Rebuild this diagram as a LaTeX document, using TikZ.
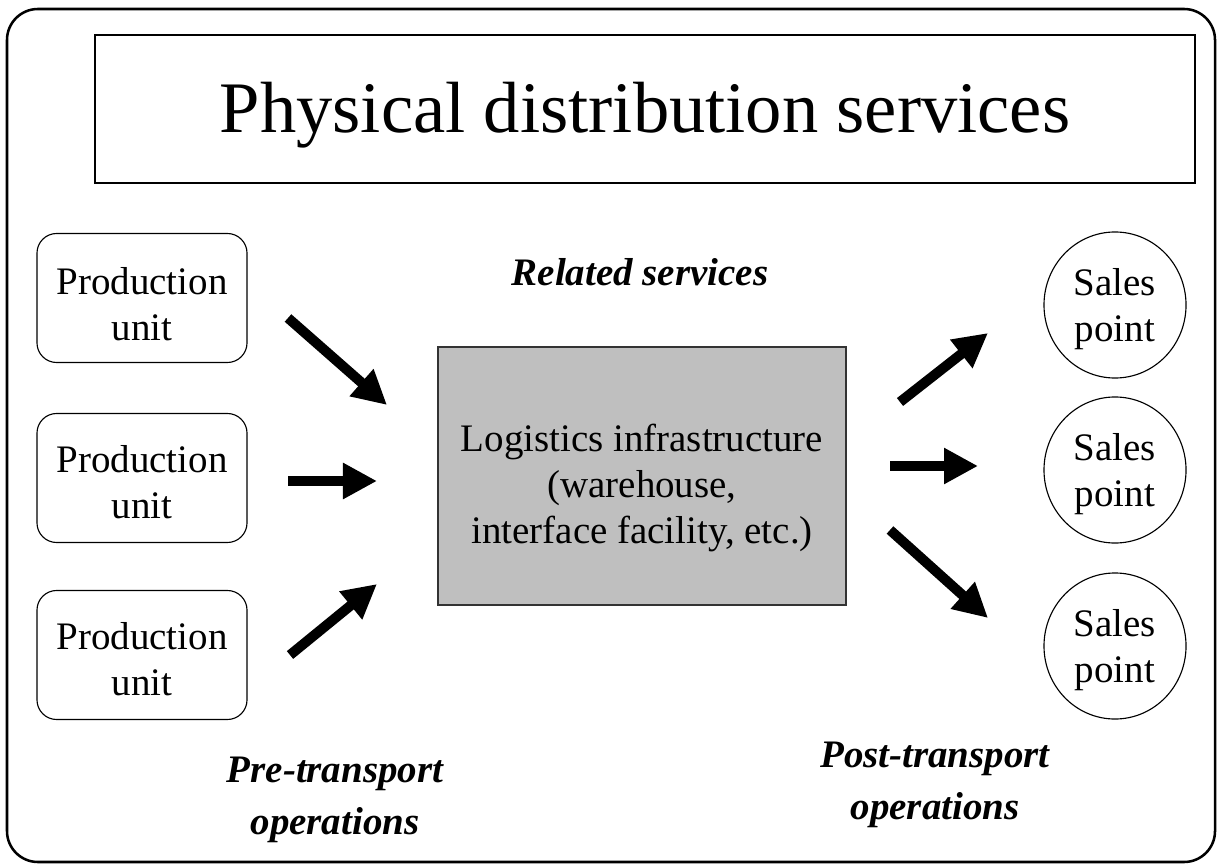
\documentclass[tikz,border=0pt]{standalone}
\usepackage{fontspec}
\setmainfont{Liberation Serif}
\usetikzlibrary{arrows.meta,shapes.geometric}
\begin{document}
\begin{tikzpicture}[x=0.025cm,y=-0.025cm,
  lbl/.style={font=\fontsize{27.7}{37.5}\selectfont\bfseries\itshape,align=center,inner sep=0pt},
  prodbox/.style={draw,line width=0.8pt,rounded corners=14pt,minimum width=5.25cm,minimum height=3.225cm,inner sep=0pt,font=\fontsize{27.7}{32.8}\selectfont,align=center},
  salesell/.style={draw,ellipse,line width=0.8pt,minimum width=3.55cm,minimum height=3.65cm,inner sep=0pt,font=\fontsize{27.7}{32.8}\selectfont,align=center},
  bigarrow/.style={line width=0.25cm,-{Triangle[length=0.85cm,width=0.85cm]}}]
\useasboundingbox (0,0) rectangle (1220,865);
% outer frame
\draw[line width=1.8pt,rounded corners=22pt] (7,9) rectangle (1215,862);
% title
\node[draw,line width=1.1pt,minimum width=27.5cm,minimum height=3.7cm,inner sep=0pt] (title) at (645,109) {};
\node[font=\fontsize{51.6}{60}\selectfont,inner sep=0pt] (ttext) at (645,115) {Physical distribution services};
% production units
\node[prodbox] (p1) at (142,298) {};
\node[prodbox] (p2) at (142,478) {};
\node[prodbox] (p3) at (142,655) {};
\node[font=\fontsize{27.7}{32.8}\selectfont,align=center,inner sep=0pt] (p1t) at (142,304) {Production\\unit};
\node[font=\fontsize{27.7}{32.8}\selectfont,align=center,inner sep=0pt] (p2t) at (142,482) {Production\\unit};
\node[font=\fontsize{27.7}{32.8}\selectfont,align=center,inner sep=0pt] (p3t) at (142,659) {Production\\unit};
% logistics
\node[draw=black!80,line width=1pt,fill=black!25,minimum width=10.2cm,minimum height=6.45cm,
  inner sep=0pt] (log) at (642,476) {};
\node[font=\fontsize{27.7}{32.8}\selectfont,align=center,inner sep=0pt] (logt) at (642,488)
  {Logistics infrastructure\\(warehouse,\\interface facility, etc.)};
% sales points
\node[salesell] (s1) at (1115,305) {};
\node[salesell] (s2) at (1115,470) {};
\node[salesell] (s3) at (1115,646) {};
\node[font=\fontsize{27.7}{32.8}\selectfont,align=center,inner sep=0pt] (s1t) at (1115,309) {Sales\\point};
\node[font=\fontsize{27.7}{32.8}\selectfont,align=center,inner sep=0pt] (s2t) at (1115,474) {Sales\\point};
\node[font=\fontsize{27.7}{32.8}\selectfont,align=center,inner sep=0pt] (s3t) at (1115,650) {Sales\\point};
% labels
\node[lbl] (rel) at (640,272) {Related services};
\node[lbl] (pre) at (335,800) {Pre-transport\\operations};
\node[lbl] (post) at (935,785) {Post-transport\\operations};
% arrow coordinates
\coordinate (a1s) at (288,318); \coordinate (a1e) at (387,405);
\coordinate (a2s) at (288,481); \coordinate (a2e) at (377,481);
\coordinate (a3s) at (290,655); \coordinate (a3e) at (377,584);
\coordinate (b1s) at (900,402); \coordinate (b1e) at (988,333);
\coordinate (b2s) at (890,466); \coordinate (b2e) at (978,466);
\coordinate (b3s) at (890,530); \coordinate (b3e) at (988,618);
\draw[bigarrow] (a1s) -- (a1e);
\draw[bigarrow] (a2s) -- (a2e);
\draw[bigarrow] (a3s) -- (a3e);
\draw[bigarrow] (b1s) -- (b1e);
\draw[bigarrow] (b2s) -- (b2e);
\draw[bigarrow] (b3s) -- (b3e);
\end{tikzpicture}
\end{document}
